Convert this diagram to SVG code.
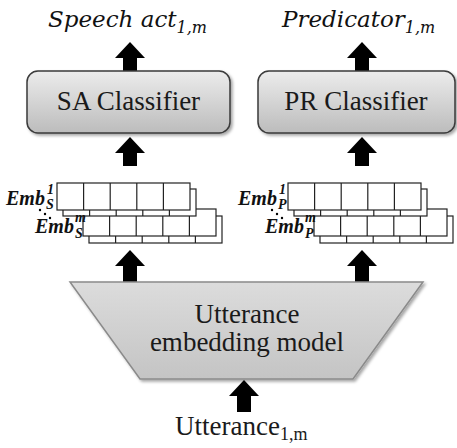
<svg xmlns="http://www.w3.org/2000/svg" width="457" height="448" viewBox="0 0 457 448">
<style>
.box{stroke:#3a3a3a;stroke-width:1.5;fill:url(#g1);filter:url(#sh)}
.trap{stroke:#8a8a8a;stroke-width:1.5;fill:url(#g2);filter:url(#sh)}
.lbl{font-family:'Liberation Serif',Tinos,'Times New Roman',serif;font-size:27px;fill:#1a1a1a}
.math{font-family:'DejaVu Serif',serif;font-style:italic;font-size:23px;fill:#111}
.emb{font-family:'Liberation Serif',serif;font-style:italic;font-weight:bold;font-size:20px;fill:#111}
.ss{font-size:14px}
.arr{fill:#000}
.cell{fill:#fff;stroke:#222;stroke-width:1.2}
</style>
<defs>
<linearGradient id="g1" x1="0" y1="0" x2="0" y2="1"><stop offset="0" stop-color="#ececec"/><stop offset="1" stop-color="#bcbcbc"/></linearGradient>
<linearGradient id="g2" x1="0" y1="0" x2="0" y2="1"><stop offset="0" stop-color="#dcdcdc"/><stop offset="1" stop-color="#c4c4c4"/></linearGradient>
<filter id="sh" x="-10%" y="-10%" width="130%" height="130%"><feDropShadow dx="2" dy="2" stdDeviation="1.5" flood-color="#000" flood-opacity="0.35"/></filter>
<g id="layer"><rect class="cell" x="0" y="0" width="133" height="27"/><path d="M26.6 0V27M53.2 0V27M79.8 0V27M106.4 0V27" stroke="#222" stroke-width="1.2"/></g>
</defs>
<g id="connectors">
<path class="arr" d="M130 42L145 58H137V71H123V58H115Z"/>
<path class="arr" d="M362 42L377 58H369V71H355V58H347Z"/>
<path class="arr" d="M130 137L145 153H137V166H123V153H115Z"/>
<path class="arr" d="M362 137L377 153H369V166H355V153H347Z"/>
<path class="arr" d="M130 250L145 266H137V282H123V266H115Z"/>
<path class="arr" d="M362 250L377 266H369V282H355V266H347Z"/>
<path class="arr" d="M244 380L259 396H251V412H237V396H229Z"/>
</g>
<g id="title-sa"><text class="math" x="48" y="27">Speech act<tspan font-size="16" dy="6">1,m</tspan></text></g>
<g id="title-pr"><text class="math" x="282" y="27">Predicator<tspan font-size="16" dy="6">1,m</tspan></text></g>
<g id="sa-classifier"><rect class="box" x="27" y="71" width="203" height="62" rx="11"/><text class="lbl" x="128.5" y="110" text-anchor="middle">SA Classifier</text></g>
<g id="pr-classifier"><rect class="box" x="258" y="71" width="197" height="62" rx="11"/><text class="lbl" x="356" y="110" text-anchor="middle">PR Classifier</text></g>
<g id="emb-s">
<use href="#layer" x="89" y="216"/><use href="#layer" x="83" y="209"/><use href="#layer" x="63" y="189"/><use href="#layer" x="57" y="183"/>
<text class="emb" x="6" y="205">Emb<tspan class="ss" x="47" y="194">1</tspan><tspan class="ss" x="46" y="209">S</tspan></text>
<text class="emb" x="35" y="233">Emb<tspan class="ss" x="75" y="222">m</tspan><tspan class="ss" x="75" y="238">S</tspan></text>
<circle cx="40" cy="210" r="1.2"/><circle cx="45" cy="214" r="1.2"/><circle cx="50" cy="218" r="1.2"/>
</g>
<g id="emb-p">
<use href="#layer" x="320" y="216"/><use href="#layer" x="314" y="209"/><use href="#layer" x="294" y="189"/><use href="#layer" x="288" y="183"/>
<text class="emb" x="238" y="205">Emb<tspan class="ss" x="279" y="194">1</tspan><tspan class="ss" x="278" y="209">P</tspan></text>
<text class="emb" x="265" y="233">Emb<tspan class="ss" x="305" y="222">m</tspan><tspan class="ss" x="305" y="238">P</tspan></text>
<circle cx="272" cy="210" r="1.2"/><circle cx="277" cy="214" r="1.2"/><circle cx="282" cy="218" r="1.2"/>
</g>
<g id="embedding-model"><polygon class="trap" points="70,282 423,282 353,379 140,379"/>
<text class="lbl" x="247" y="323" text-anchor="middle">Utterance</text>
<text class="lbl" x="247" y="351" text-anchor="middle">embedding model</text></g>
<g id="input"><text class="lbl" x="175" y="435">Utterance<tspan font-size="18" dy="5">1,m</tspan></text></g>
</svg>
